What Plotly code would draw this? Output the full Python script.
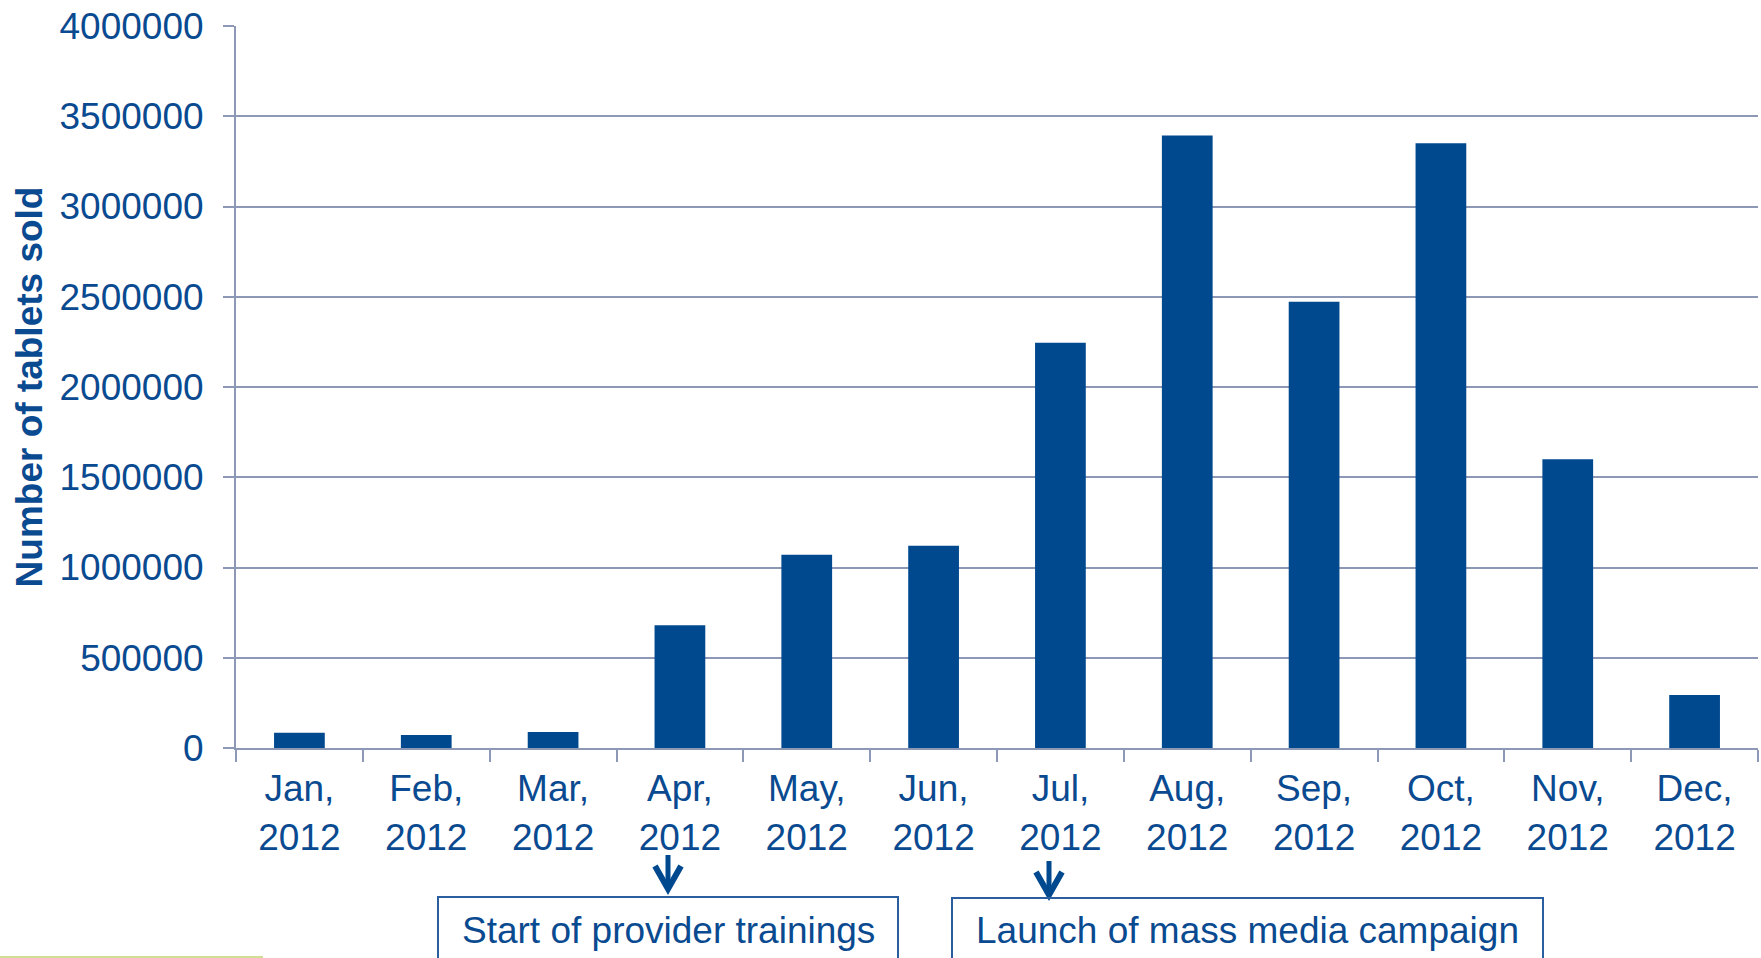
import plotly.graph_objects as go

# Monthly sales of tablets, 2012
months = ["Jan", "Feb", "Mar", "Apr", "May", "Jun",
          "Jul", "Aug", "Sep", "Oct", "Nov", "Dec"]
year = "2012"
tablets_sold = [85000, 72000, 89000, 680000, 1070000, 1120000,
                2245000, 3393000, 2472000, 3350000, 1600000, 294000]
y_ticks = [0, 500000, 1000000, 1500000, 2000000, 2500000,
           3000000, 3500000, 4000000]

# Programme milestones marked under the month axis
events = ["Start of provider trainings", "Launch of mass media campaign"]
event_months = ["Apr", "Jul"]

labels = [f"{m},<br>{year}" for m in months]

W, H = 1761, 958
ML, MR, MT, MB = 236, 3, 26, 210
PW, PH = W - ML - MR, H - MT - MB

BLUE = "#00498F"
TEXT = "#0A4A90"
AXIS = "#8D98B7"
FONT = "Liberation Sans, Arial, sans-serif"
FS = 37


def px_x(x):
    return (x - ML) / PW


def px_y(y):
    return (H - MB - y) / PH


fig = go.Figure(go.Bar(
    x=labels,
    y=tablets_sold,
    marker=dict(color=BLUE, line=dict(width=0)),
    width=0.4,
))

fig.update_layout(
    width=W, height=H,
    margin=dict(l=ML, r=MR, t=MT, b=MB, pad=0),
    plot_bgcolor="white", paper_bgcolor="white",
    font=dict(family=FONT, size=FS, color=TEXT),
    showlegend=False,
    bargap=0.6,
)

fig.update_xaxes(
    type="category",
    showgrid=False,
    showline=True, linecolor=AXIS, linewidth=2,
    ticks="outside", tickson="boundaries", ticklen=12,
    tickcolor=AXIS, tickwidth=2,
    tickfont=dict(size=FS, color=TEXT, family=FONT),
    ticklabelstandoff=7,
    range=[-0.5, len(months) - 0.5],
    fixedrange=True,
)

fig.update_yaxes(
    range=[0, 4000000],
    tickvals=y_ticks,
    ticktext=[str(v) for v in y_ticks],
    showgrid=True, gridcolor=AXIS, gridwidth=2,
    showline=True, linecolor=AXIS, linewidth=2,
    zeroline=False,
    ticks="outside", ticklen=11, tickcolor=AXIS, tickwidth=2,
    tickfont=dict(size=FS, color=TEXT, family=FONT),
    ticklabelstandoff=12,
    title=dict(text="<b>Number of tablets sold</b>",
               font=dict(size=FS, color=TEXT, family=FONT),
               standoff=6),
    automargin=False,
    fixedrange=True,
)

# Arrows from the month labels down to the milestone boxes:
# (x, shaft top, tip) in page pixels
arrows = {"Apr": (668, 855, 889), "Jul": (1049, 861, 895)}
for m in event_months:
    x, top, tip = arrows[m]
    fig.add_shape(
        type="line", xref="paper", yref="paper",
        x0=px_x(x), x1=px_x(x), y0=px_y(top), y1=px_y(tip - 3),
        line=dict(color=BLUE, width=5),
    )
    fig.add_shape(
        type="path", xref="paper", yref="paper",
        path=(f"M {px_x(x - 13)},{px_y(tip - 23)} "
              f"L {px_x(x)},{px_y(tip)} "
              f"L {px_x(x + 13)},{px_y(tip - 23)}"),
        line=dict(color=BLUE, width=6),
    )

# Milestone boxes (running off the bottom edge of the page)
boxes = [(438, 898, 897), (952, 1543, 898)]
for (x0, x1, top), text in zip(boxes, events):
    fig.add_shape(
        type="rect", xref="paper", yref="paper",
        x0=px_x(x0), x1=px_x(x1), y0=px_y(top), y1=px_y(H + 40),
        line=dict(color="#2A5E9E", width=2), fillcolor="rgba(0,0,0,0)",
        layer="above",
    )
    fig.add_annotation(
        xref="paper", yref="paper",
        x=px_x((x0 + x1) / 2), y=px_y(931),
        xanchor="center", yanchor="middle",
        text=text, showarrow=False,
        font=dict(size=FS, color=TEXT, family=FONT),
    )

# Thin accent rule at the bottom-left corner of the slide
fig.add_shape(
    type="line", xref="paper", yref="paper",
    x0=px_x(0), x1=px_x(263), y0=px_y(957), y1=px_y(957),
    line=dict(color="#D2DE95", width=2),
)

fig.write_html("out.html")
